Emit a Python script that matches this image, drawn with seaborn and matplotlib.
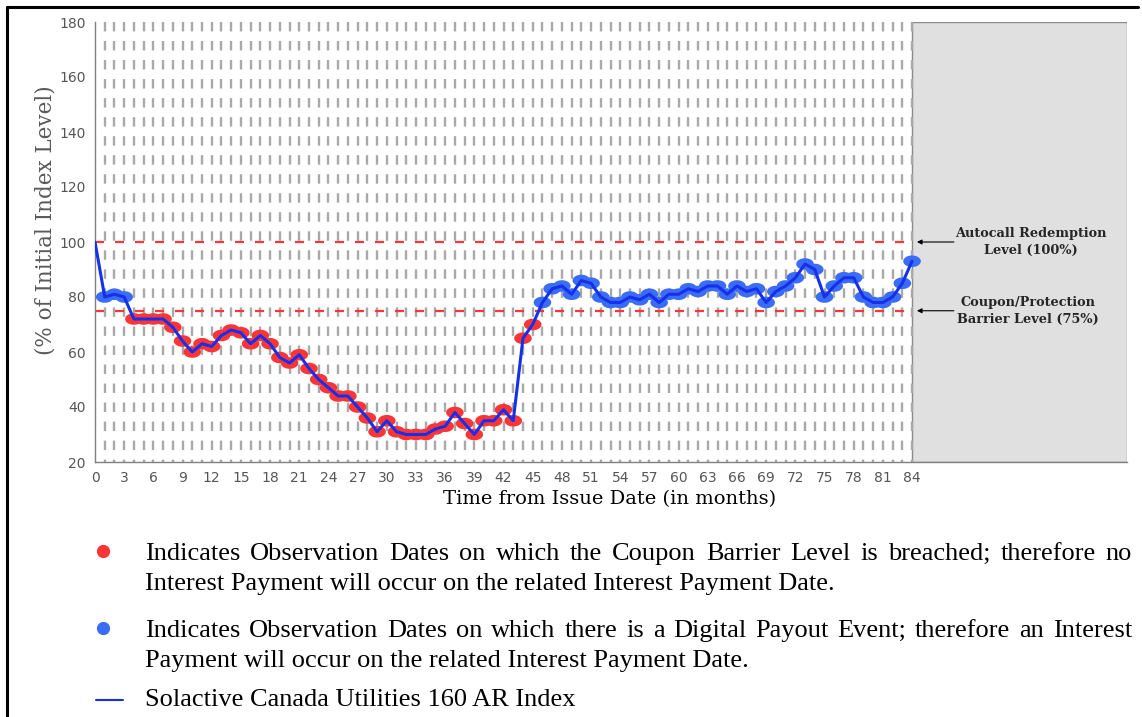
import matplotlib
matplotlib.use("Agg")
import numpy as np
import pandas as pd
import matplotlib.pyplot as plt
import seaborn as sns
from matplotlib.path import Path
from matplotlib.lines import Line2D

# Index level (% of initial) at each month from issue
months = list(range(0, 85))
index_level = [100,
               80, 81, 80, 72, 72, 72, 72, 69, 64, 60,
               63, 62, 66, 68, 67, 63, 66, 63, 58, 56,
               59, 54, 50, 47, 44, 44, 40, 36, 31, 35,
               31, 30, 30, 30, 32, 33, 38, 34, 30, 35,
               35, 39, 35, 65, 70, 78, 83, 84, 81, 86,
               85, 80, 78, 78, 80, 79, 81, 78, 81, 81,
               83, 82, 84, 84, 81, 84, 82, 83, 78, 82,
               84, 87, 92, 90, 80, 84, 87, 87, 80, 78,
               78, 80, 85, 93]

autocall_level = 100
coupon_level = 75
x_ticks = list(range(0, 85, 3))
y_ticks = list(range(20, 181, 20))

legend_lines = [
    "Indicates Observation Dates on which the Coupon Barrier Level is breached; therefore no",
    "Interest Payment will occur on the related Interest Payment Date.",
    "Indicates Observation Dates on which there is a Digital Payout Event; therefore an Interest",
    "Payment will occur on the related Interest Payment Date.",
    "Solactive Canada Utilities 160 AR Index",
]

RED = "#ff3535"
BLUE_PT = "#3a6cf6"
BLUE_LINE = "#1430ec"

sns.set_style("white")
plt.rcParams["font.family"] = ["DejaVu Sans"]
plt.rcParams["lines.scale_dashes"] = False

W, H = 1142, 717
fig, ax = plt.subplots(figsize=(W / 100, H / 100), dpi=100)
fig.subplots_adjust(left=95 / W, right=1127 / W, top=1 - 22 / H, bottom=1 - 462 / H)

xmax = 106.1

# shaded area after maturity
ax.axvspan(84, xmax - 0.05, facecolor="#e0e0e0", edgecolor="#8a8a8a", lw=1.0, zorder=0)

# monthly observation grid
ax.vlines(months[1:], 180, 20, colors="#a9a9a9", linewidth=1.7,
          linestyles=[(0, (6.8, 6.9))], zorder=1)

# barrier levels
ax.hlines([autocall_level, coupon_level], 0, 84, colors=RED, linewidth=1.6,
          linestyles=[(0, (6.5, 7.9))], zorder=2)

# observation markers (ellipses)
t = np.linspace(0, 2 * np.pi, 48)
ellipse = Path(np.column_stack([np.cos(t), 0.66 * np.sin(t)]), closed=True)

obs = pd.DataFrame({"month": months[1:], "level": index_level[1:]})
obs["status"] = np.where(obs["level"] < coupon_level, "breach", "payout")
sns.scatterplot(data=obs, x="month", y="level", hue="status",
                palette={"breach": RED, "payout": BLUE_PT},
                marker=ellipse, s=160, linewidth=0, legend=False, ax=ax, zorder=3)

sns.lineplot(x=months, y=index_level, color=BLUE_LINE, linewidth=2.2, ax=ax, zorder=4)

ax.set_xlim(0, xmax)
ax.set_ylim(20, 180)
ax.set_xticks(x_ticks)
ax.set_yticks(y_ticks)
ax.tick_params(axis="both", colors="#808080", labelcolor="#555555", labelsize=10,
               length=3, width=1, direction="out")
for side in ["top", "right"]:
    ax.spines[side].set_visible(False)
for side in ["left", "bottom"]:
    ax.spines[side].set_color("#808080")
    ax.spines[side].set_linewidth(1.0)

ax.set_xlabel("Time from Issue Date (in months)", fontfamily="DejaVu Serif",
              fontsize=14, color="black", va="center")
ax.xaxis.set_label_coords(0.499, -0.084)
ax.set_ylabel("(% of Initial Index Level)", fontfamily="DejaVu Serif",
              fontsize=15.5, color="#5a5a5a", va="center")
ax.yaxis.set_label_coords(-0.0484, 0.55)

# level annotations
for lvl, label, xc in [(autocall_level, "Autocall Redemption\nLevel (100%)", 96.2),
                       (coupon_level, "Coupon/Protection\nBarrier Level (75%)", 95.9)]:
    ax.annotate("", xy=(84.5, lvl), xytext=(88.3, lvl), annotation_clip=False,
                arrowprops=dict(arrowstyle="-|>", color="black", lw=0.8,
                                mutation_scale=7, shrinkA=0, shrinkB=0))
    ax.text(xc, lvl, label, ha="center", va="center", fontfamily="DejaVu Serif",
            fontweight="bold", fontsize=9.3, linespacing=1.35, zorder=5)

# frame of the original screenshot (left and top edges)
fig.add_artist(Line2D([6.5 / W, 6.5 / W], [0, 1 - 6.5 / H], transform=fig.transFigure,
                      color="black", lw=2.2))
fig.add_artist(Line2D([6.5 / W, 1138 / W], [1 - 6.5 / H, 1 - 6.5 / H],
                      transform=fig.transFigure, color="black", lw=2.2))

# legend block below the chart
renderer = fig.canvas.get_renderer()
text_kw = dict(fontfamily="Liberation Serif", fontsize=19, color="black", va="baseline")
x_left, x_right = 145, 1132
baselines = [560, 590, 637, 667, 706]


def justified(line, y):
    words = line.split()
    arts = [fig.text(0, 1 - y / H, w, **text_kw) for w in words]
    widths = [a.get_window_extent(renderer).width for a in arts]
    gap = (x_right - x_left - sum(widths)) / (len(words) - 1)
    x = x_left
    for a, w in zip(arts, widths):
        a.set_x(x / W)
        x += w + gap


for i, (line, y) in enumerate(zip(legend_lines, baselines)):
    if i in (0, 2):
        justified(line, y)
    else:
        fig.text(x_left / W, 1 - y / H, line, **text_kw)

fig.add_artist(Line2D([103 / W], [1 - 551 / H], marker="o", ms=8.5, color=RED,
                      transform=fig.transFigure, linestyle="none"))
fig.add_artist(Line2D([103 / W], [1 - 628 / H], marker="o", ms=8.5, color=BLUE_PT,
                      transform=fig.transFigure, linestyle="none"))
fig.add_artist(Line2D([96 / W, 123 / W], [1 - 700 / H, 1 - 700 / H], color=BLUE_LINE,
                      lw=1.5, transform=fig.transFigure))

plt.savefig("out.png", dpi=100)
